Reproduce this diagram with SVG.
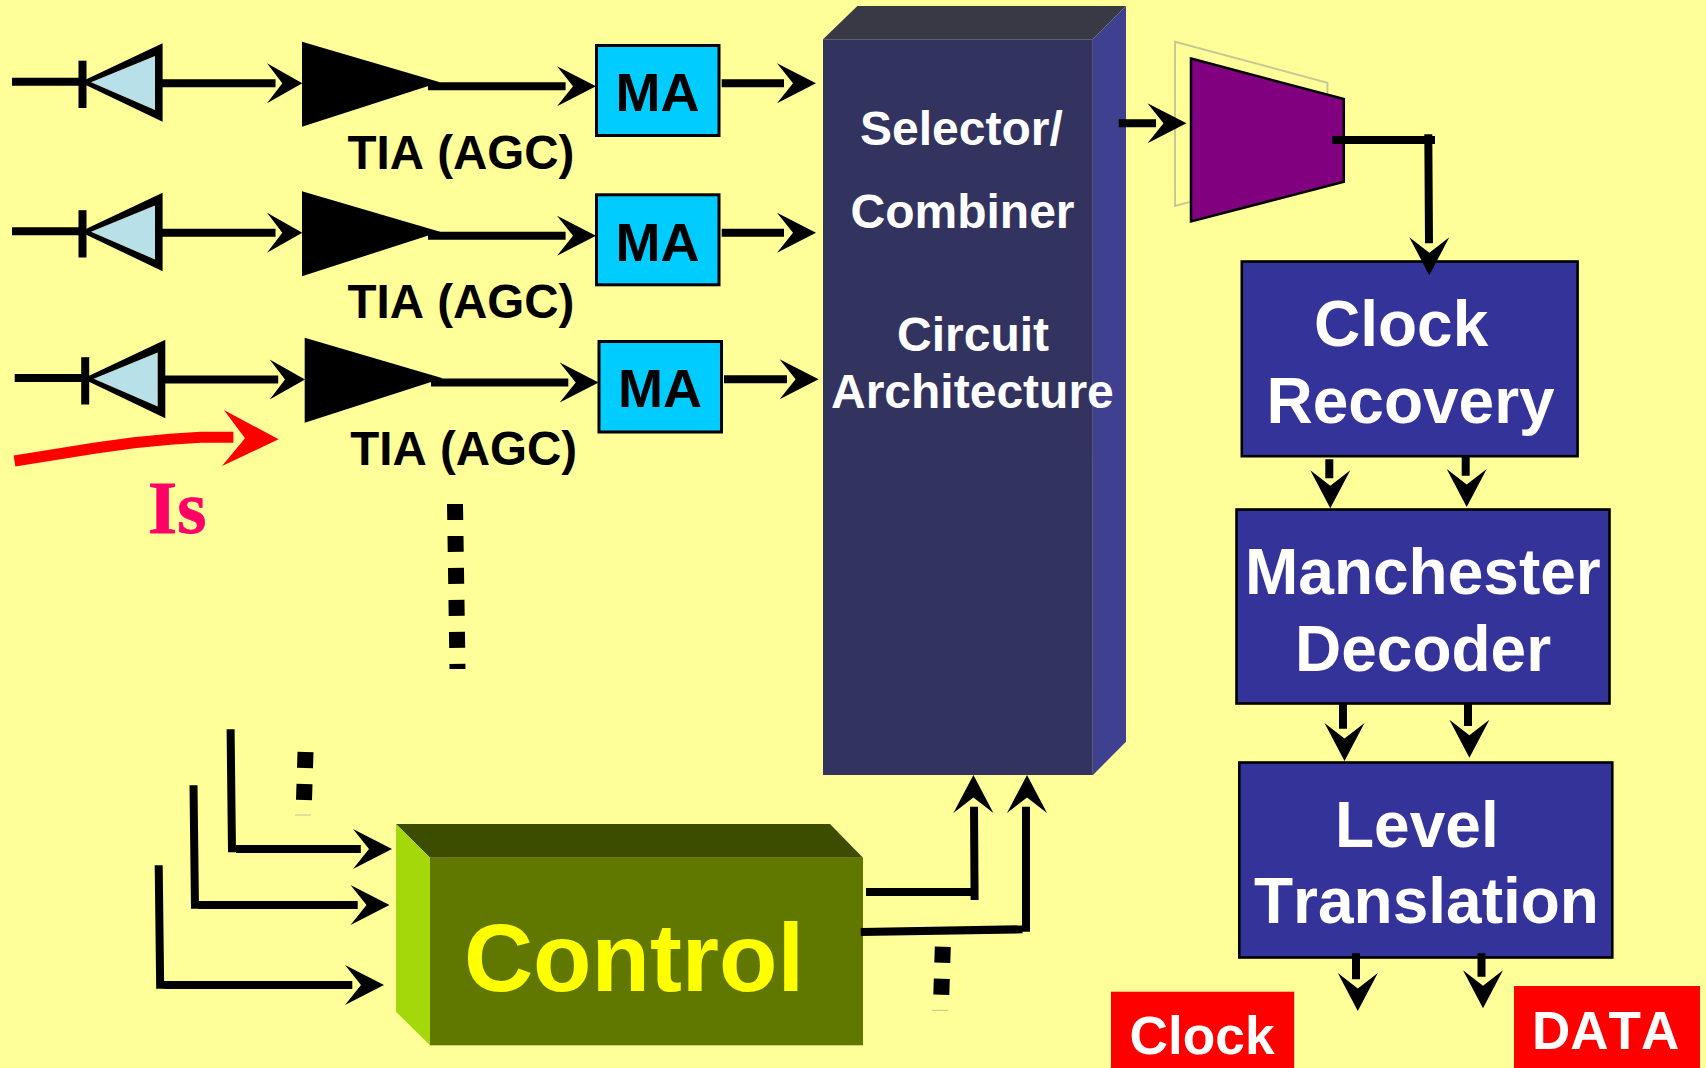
<svg xmlns="http://www.w3.org/2000/svg" xmlns:xlink="http://www.w3.org/1999/xlink" width="1706" height="1068" viewBox="0 0 1706 1068">
<style>
text{font-family:"Liberation Sans",Arial,sans-serif;font-weight:700;font-kerning:none}
.w{fill:#fff}
.k{fill:#000}
.b{font-size:64px;fill:#fff}
.s{font-size:48px;fill:#fff}
.tia{font-size:47.500px;fill:#000}
.ma{font-size:54px;fill:#000}
.l{fill:none;stroke:#000;stroke-width:8}
.d{fill:none;stroke:#000;stroke-width:16;stroke-dasharray:16 16}
.hair{fill:none;stroke:#c4c48c;stroke-width:1}
.box{fill:#333399;stroke:#000;stroke-width:2.600}
.mab{fill:#00ccff;stroke:#000;stroke-width:3}
.red{fill:#ff0000}
</style>
<defs>
<polygon id="h" points="0,0 -39,-20 -23,0 -39,20" fill="#000"/>
<polygon id="hs" points="0,0 -35.300,-20 -20,0 -35.300,20" fill="#000"/>
<polygon id="hv" points="0,0 -38,-20 -22.500,0 -38,20" fill="#000"/>
<g id="pd">
<rect x="78.500" y="60.700" width="8" height="47.300" fill="#000"/>
<polygon points="155,56 155,110 91,82.300" fill="#b8e0e8"/>
<path d="M162.600,43.300V121.700L80,82.300ZM155,56L91,82.300L155,110Z" fill="#000" fill-rule="evenodd"/>
</g>
<polygon id="tri" points="302,41.700 302,126.700 440,82.300" fill="#000"/>
</defs>
<rect width="1706" height="1068" fill="#ffff99"/>
<g id="photodiode-1"><use href="#pd"/></g>
<g id="photodiode-2"><use href="#pd" y="149.500"/></g>
<g id="photodiode-3"><use href="#pd" x="2.700" y="296.500"/></g>
<g id="tia-1"><use href="#tri"/><text class="tia" x="347.500" y="168.500">TIA (AGC)</text></g>
<g id="tia-2"><use href="#tri" y="149.500"/><text class="tia" x="347.500" y="318">TIA (AGC)</text></g>
<g id="tia-3"><use href="#tri" x="2.700" y="296"/><text class="tia" x="350.200" y="465">TIA (AGC)</text></g>
<g id="ma-1"><rect class="mab" x="596.500" y="45.500" width="122.500" height="90"/><text class="ma" x="615.500" y="111">MA</text></g>
<g id="ma-2"><rect class="mab" x="596.500" y="194.800" width="122.500" height="90"/><text class="ma" x="615.500" y="260.500">MA</text></g>
<g id="ma-3"><rect class="mab" x="599" y="341.500" width="122.500" height="90.500"/><text class="ma" x="618" y="407">MA</text></g>
<g id="selector-combiner">
<polygon points="823,39.300 857.400,6 1126,6 1092.800,39.300" fill="#393946"/>
<polygon points="1092.800,39.300 1126,6 1126,741.700 1093,775" fill="#404090"/>
<rect x="823" y="39.300" width="269.800" height="735.700" fill="#333360"/>
<text class="s" x="860" y="144.500">Selector/</text>
<text class="s" x="850.500" y="227.500">Combiner</text>
<text class="s" x="897" y="351">Circuit</text>
<text class="s" x="831" y="408">Architecture</text>
</g>
<g id="mux">
<polygon points="1175,41.700 1327.400,82.700 1327.400,165 1175,206" fill="none" stroke="#c8c896" stroke-width="2"/>
<polygon points="1191,58.500 1343.800,99 1343.800,181.700 1191,221.500" fill="#800080" stroke="#000" stroke-width="2.500"/>
</g>
<g id="clock-recovery"><rect class="box" x="1241.800" y="261.500" width="335.800" height="194.700"/>
<text class="b" x="1314" y="346">Clock</text><text class="b" x="1266.500" y="422.700">Recovery</text></g>
<g id="manchester-decoder"><rect class="box" x="1236.500" y="509.500" width="373" height="194"/>
<text class="b" x="1245" y="594">Manchester</text><text class="b" x="1295" y="670.700">Decoder</text></g>
<g id="level-translation"><rect class="box" x="1239.300" y="762.500" width="373" height="195"/>
<text class="b" x="1335" y="846.700">Level</text><text class="b" x="1254" y="923">Translation</text></g>
<g id="control">
<polygon points="396,824 830,824 863,857.700 430,857.700" fill="#3d4d00"/>
<polygon points="396,824 430,857.700 430,1045.300 396,1011.700" fill="#a4d80a"/>
<rect x="430" y="857.700" width="433" height="187.600" fill="#607800"/>
<text x="464" y="990.700" font-size="95.700" fill="#ffff00">Control</text>
</g>
<g id="clock-label"><rect class="red" x="1111" y="991.700" width="183.200" height="76.300"/><text class="w" x="1129.500" y="1054.300" font-size="53.300">Clock</text></g>
<g id="data-label"><rect class="red" x="1514" y="986" width="186" height="82"/><text class="w" x="1532" y="1049" font-size="53">DATA</text></g>
<g id="is-label"><text x="148" y="532.700" font-size="75" fill="#ff0066" stroke="#ff0066" stroke-width="0.800" style="font-family:'Liberation Serif','Times New Roman',serif">Is</text></g>
<g id="connectors">
<path class="l" d="M12,81.700H82M162,83.300H275.500M428,86.300H565.600M721.700,83.300H784"/>
<use href="#hs" x="302.300" y="83.300"/><use href="#h" x="596" y="86.300"/><use href="#h" x="816" y="83.300"/>
<path class="l" d="M12,231.200H82M162,232.800H275.500M428,235.800H565.600M721.700,232.800H784"/>
<use href="#hs" x="302.300" y="232.800"/><use href="#h" x="596" y="235.800"/><use href="#h" x="816" y="232.800"/>
<path class="l" d="M14.700,378H85M165,379.500H278.200M431,382.500H568.300M724,379.300H787"/>
<use href="#hs" x="305" y="379.500"/><use href="#h" x="598.700" y="382.500"/><use href="#h" x="818.600" y="379.300"/>
<polyline points="14.500,461 95.700,448 134,442.700 170,439.300 201,437.300 233.400,437.300" fill="none" stroke="#ff0000" stroke-width="11"/>
<polygon points="278.600,439.300 223.900,410 245,438.300 222,466" fill="#ff0000"/>
<path class="d" d="M455,504L457.500,669"/>
<path class="d" d="M305.500,752L304,800"/><path class="hair" d="M295,815H311"/>
<path class="l" d="M230.600,729.300L232,852.300M236,849H360.800M193.500,785.300L195,908.700M198.500,905H357.700M158.700,865.300L160.200,988.700M164,985H352.300"/>
<use href="#h" x="392" y="849"/><use href="#h" x="389.500" y="905"/><use href="#h" x="384" y="985"/>
<path class="l" d="M866,892H973.400M974,806.700L974.600,900M860.700,932L1022.500,929.300M1026,806.700V931.700"/>
<use href="#hv" transform="translate(973.400,775) rotate(-90)"/><use href="#hv" transform="translate(1027,775) rotate(-90)"/>
<path class="d" d="M942.800,946.700L941.300,994.700"/><path class="hair" d="M932,1010.300H948"/>
<path class="l" d="M1118.800,123.300H1156M1332.300,140H1435M1428.300,134.300L1429,243.300"/>
<use href="#h" x="1186.500" y="123.300"/>
<use href="#hv" transform="translate(1429.300,275.300) rotate(90)"/>
<path class="l" d="M1329.300,459.300V478.300M1465.700,456V475.700M1343,704V728.700M1468,704V726M1356,953.300V979.300M1481.500,953.300V976.700"/>
<use href="#hv" transform="translate(1330.300,508.300) rotate(90)"/><use href="#hv" transform="translate(1466.700,507) rotate(90)"/>
<use href="#hv" transform="translate(1344.500,761) rotate(90)"/><use href="#hv" transform="translate(1469.400,757.700) rotate(90)"/>
<use href="#hv" transform="translate(1357.800,1011) rotate(90)"/><use href="#hv" transform="translate(1483,1008.300) rotate(90)"/>
</g>
</svg>
